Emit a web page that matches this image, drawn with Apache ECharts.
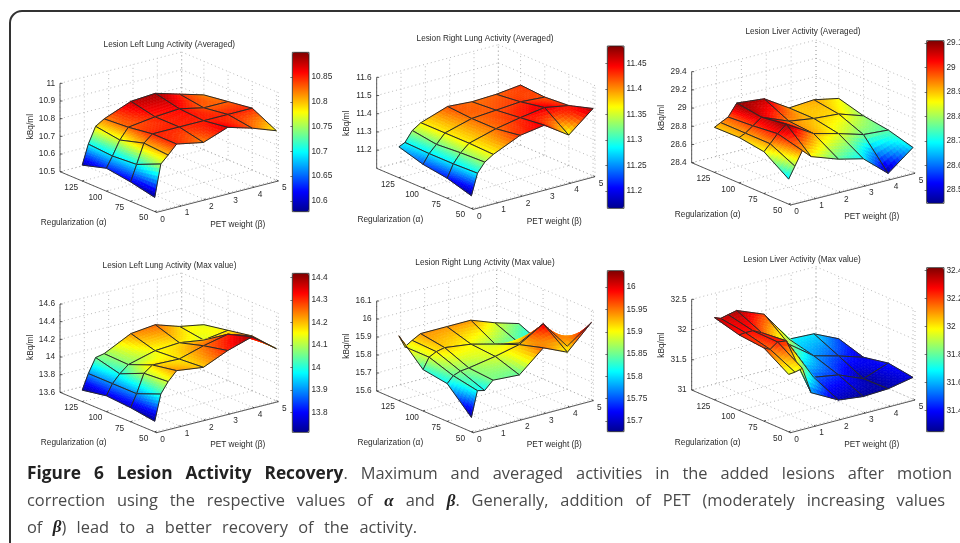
<!DOCTYPE html>
<html><head><meta charset="utf-8">
<style>html,body{margin:0;padding:0;background:#fff;overflow:hidden}#c{width:960px;height:543px;filter:blur(0.35px)}</style>
<script src="https://cdn.jsdelivr.net/npm/echarts@6/dist/echarts.min.js"></script>
</head><body><div id="c"></div>
<script>
// ---- data ----
const alphaValues = [50, 75, 100, 125];
const betaValues = [0, 0.25, 0.55, 0.9, 2, 3, 4, 5];
const alphaTicks = [50, 75, 100, 125];
const betaTicks = [0, 1, 2, 3, 4, 5];
// rows follow alphaValues, columns follow betaValues
const leftLungAvg = [
 [10.58,10.76,10.80,10.85,10.82,10.87,10.83,10.78],
 [10.61,10.70,10.81,10.85,10.85,10.85,10.85,10.85],
 [10.63,10.69,10.77,10.83,10.85,10.86,10.83,10.83],
 [10.59,10.70,10.79,10.82,10.88,10.89,10.85,10.81]];
const rightLungAvg = [
 [11.17,11.285,11.335,11.365,11.43,11.45,11.36,11.47],
 [11.21,11.28,11.33,11.37,11.41,11.435,11.455,11.43],
 [11.23,11.28,11.32,11.37,11.41,11.42,11.43,11.42],
 [11.27,11.285,11.34,11.37,11.42,11.41,11.415,11.43]];
const liverAvg = [
 [28.675,28.80,28.95,28.86,28.755,28.69,28.46,28.675],
 [28.86,28.93,29.02,29.10,28.92,28.85,28.77,28.75],
 [28.90,28.93,28.99,29.06,28.94,28.90,28.88,28.79],
 [28.895,28.93,28.97,29.10,29.07,28.90,28.92,28.865]];
const leftLungMax = [
 [13.72,14.01,14.13,14.23,14.19,14.31,14.395,14.19],
 [13.76,13.90,14.11,14.18,14.17,14.25,14.31,14.22],
 [13.78,13.90,13.99,14.07,14.15,14.17,14.13,14.17],
 [13.73,13.90,14.06,14.08,14.23,14.26,14.17,14.12]];
const rightLungMax = [
 [15.68,15.82,15.81,15.855,15.845,15.96,15.90,16.03],
 [15.81,15.845,15.86,15.865,15.89,15.92,16.00,15.84],
 [15.83,15.89,15.91,15.92,15.90,15.865,15.835,15.79],
 [15.96,15.89,15.915,15.94,15.94,15.94,15.89,15.85]];
const liverMax = [
 [31.95,31.96,31.99,31.55,31.31,31.26,31.28,31.36],
 [32.21,32.16,32.25,32.23,31.51,31.44,31.27,31.42],
 [32.25,32.26,32.26,32.19,31.88,31.58,31.47,31.34],
 [32.36,32.32,32.35,32.38,32.20,31.68,31.66,31.47]];
const zTicksLeftAvg = [10.5,10.6,10.7,10.8,10.9,11];
const zTicksRightAvg = [11.2,11.3,11.4,11.5,11.6];
const zTicksLiverAvg = [28.4,28.6,28.8,29,29.2,29.4];
const zTicksLeftMax = [13.6,13.8,14,14.2,14.4,14.6];
const zTicksRightMax = [15.6,15.7,15.8,15.9,16,16.1];
const zTicksLiverMax = [31,31.5,32,32.5];
const barTicksLeftAvg = [10.6,10.65,10.7,10.75,10.8,10.85];
const barTicksRightAvg = [11.2,11.25,11.3,11.35,11.4,11.45];
const barTicksLiverAvg = [28.5,28.6,28.7,28.8,28.9,29,29.1];
const barTicksLeftMax = [13.8,13.9,14,14.1,14.2,14.3,14.4];
const barTicksRightMax = [15.7,15.75,15.8,15.85,15.9,15.95,16];
const barTicksLiverMax = [31.4,31.6,31.8,32,32.2,32.4];
const titles = ['Lesion Left Lung Activity (Averaged)','Lesion Right Lung Activity (Averaged)','Lesion Liver Activity (Averaged)',
 'Lesion Left Lung Activity (Max value)','Lesion Right Lung Activity (Max value)','Lesion Liver Activity (Max value)'];
const jet = ['#00008f','#0000ff','#0080ff','#00ffff','#80ff80','#ffff00','#ff8000','#ff0000','#800000'];
const captionLines = [
 '{b|Figure} {b|6} {b|Lesion} {b|Activity} {b|Recovery}{r|.} {r|Maximum} {r|and} {r|averaged} {r|activities} {r|in} {r|the} {r|added} {r|lesions} {r|after} {r|motion}',
 '{r|correction} {r|using} {r|the} {r|respective} {r|values} {r|of} {m|α} {r|and} {m|β}{r|.} {r|Generally,} {r|addition} {r|of} {r|PET} {r|(moderately} {r|increasing} {r|values}',
 '{r|of} {m|β}{r|)} {r|lead} {r|to} {r|a} {r|better} {r|recovery} {r|of} {r|the} {r|activity.}'];
const captionEnds = [952, 945, 417];
const captionY = [474, 501.5, 528];

// ---- layout: geometry in 3x crop units of each panel ----
const panels = [
 {crop:[0,20,340,230], O:[470,577],B:[835,483],A:[180,455],zTop:190,zr:[10.5,11],  vals:leftLungAvg, zT:zTicksLeftAvg,  bar:[877,927,97,575], br:[10.578,10.90], bT:barTicksLeftAvg},
 {crop:[330,20,320,230],O:[430,568],B:[795,470],A:[140,445],zTop:172,zr:[11.1,11.6],vals:rightLungAvg,zT:zTicksRightAvg, bar:[832,882,78,565], br:[11.166,11.484], bT:barTicksRightAvg},
 {crop:[640,10,320,230],O:[452,585],B:[825,490],A:[155,458],zTop:185,zr:[28.4,29.4],vals:liverAvg,   zT:zTicksLiverAvg, bar:[860,912,92,580], br:[28.445,29.11],  bT:barTicksLiverAvg},
 {crop:[0,250,340,210], O:[470,548],B:[835,455],A:[180,427],zTop:162,zr:[13.6,14.6],vals:leftLungMax,zT:zTicksLeftMax,  bar:[877,927,70,547], br:[13.711,14.418], bT:barTicksLeftMax},
 {crop:[330,250,320,210],O:[430,548],B:[790,452],A:[140,423],zTop:153,zr:[15.6,16.1],vals:rightLungMax,zT:zTicksRightMax,bar:[832,882,62,545], br:[15.676,16.037], bT:barTicksRightMax},
 {crop:[640,250,320,210],O:[452,548],B:[825,450],A:[155,420],zTop:148,zr:[31,32.5],  vals:liverMax,  zT:zTicksLiverMax, bar:[860,912,53,545], br:[31.25,32.42],   bT:barTicksLiverMax}];
const titlePos = [[169.3,44],[485,38],[803,31],[169.5,265],[485,262],[802,259]];
const A_MIN = 48, A_MAX = 148, B_MAX = 5, SUB = 8;
const FONT = '8.3px "Liberation Sans"', TXT = '#2a2a2a';

function project(p, a, b, z) {
  const s = b / B_MAX, t = (a - A_MIN) / (A_MAX - A_MIN), u = (z - p.zr[0]) / (p.zr[1] - p.zr[0]);
  return [p.O[0] + (p.B[0]-p.O[0])*s + (p.A[0]-p.O[0])*t,
          p.O[1] + (p.B[1]-p.O[1])*s + (p.A[1]-p.O[1])*t - (p.A[1]-p.zTop)*u];
}
const tint = (p, z) => echarts.color.lerp(Math.min(1, Math.max(0, (z-p.br[0])/(p.br[1]-p.br[0]))), jet);

const grid = [], xAxis = [], yAxis = [], series = [], visualMap = [], title = [];
panels.forEach((p, i) => {
  const [cx, cy, cw, ch] = p.crop;
  const bi = grid.length;
  grid.push({left:cx, top:cy, width:cw, height:ch, show:false, outerBoundsMode:'none'});
  xAxis.push({gridIndex:bi, type:'value', min:0, max:cw*3, show:false});
  yAxis.push({gridIndex:bi, type:'value', min:0, max:ch*3, inverse:true, show:false});
  // colour bar axis
  const bx0 = cx + p.bar[0]/3, bx1 = cx + p.bar[1]/3, by0 = cy + p.bar[2]/3, by1 = cy + p.bar[3]/3;
  grid.push({left:bx0, top:by0, width:bx1-bx0, height:by1-by0, show:true, borderColor:'#222', borderWidth:0.8, backgroundColor:'transparent', z:6, outerBoundsMode:'none'});
  xAxis.push({gridIndex:bi+1, type:'value', min:0, max:1, show:false});
  yAxis.push({gridIndex:bi+1, type:'value', position:'right', min:p.br[0], max:p.br[1], z:6,
    splitLine:{show:false}, axisLine:{show:false},
    axisTick:{show:true, inside:true, length:2, lineStyle:{color:'#222',width:0.6}, customValues:p.bT},
    axisLabel:{color:TXT, fontSize:8.3, fontFamily:'Liberation Sans', margin:2.5, customValues:p.bT, formatter:v=>String(v), hideOverlap:false}});
  title.push({text:titles[i], left:titlePos[i][0], top:titlePos[i][1]-3.5, textAlign:'center', padding:0,
    textStyle:{color:TXT, fontSize:8.2, fontWeight:'normal', fontFamily:'Liberation Sans'}});

  // frame: walls, floor, axes, tick labels
  series.push({type:'custom', xAxisIndex:bi, yAxisIndex:bi, silent:true, animation:false, clip:false, z:2, data:[[0,0]],
    renderItem(params, api) {
      const ch_ = [];
      const P = (a,b,z) => api.coord(project(p,a,b,z));
      const [z0,z1] = p.zr;
      const dot = (q,r) => ch_.push({type:'line', shape:{x1:q[0],y1:q[1],x2:r[0],y2:r[1]}, style:{stroke:'#a8a8a8',lineWidth:0.8,lineDash:[1,3]}});
      const sol = (q,r) => ch_.push({type:'line', shape:{x1:q[0],y1:q[1],x2:r[0],y2:r[1]}, style:{stroke:'#333',lineWidth:0.8}});
      const txt = (q,s,dx,dy,al,rot) => ch_.push({type:'text', x:q[0]+dx, y:q[1]+dy, rotation:rot||0,
        style:{text:s, font:FONT, fill:TXT, align:al||'center', verticalAlign:'middle'}});
      const aAll = [A_MIN].concat(alphaTicks, [A_MAX]);
      const zAll = [z0].concat(p.zT.filter(v=>v!==z0));
      betaTicks.forEach(b => { dot(P(A_MIN,b,z0),P(A_MAX,b,z0)); dot(P(A_MAX,b,z0),P(A_MAX,b,z1)); });
      aAll.forEach(a => { dot(P(a,0,z0),P(a,B_MAX,z0)); dot(P(a,B_MAX,z0),P(a,B_MAX,z1)); });
      zAll.forEach(z => { dot(P(A_MAX,0,z),P(A_MAX,B_MAX,z)); dot(P(A_MAX,B_MAX,z),P(A_MIN,B_MAX,z)); });
      sol(P(A_MIN,0,z0),P(A_MAX,0,z0)); sol(P(A_MIN,0,z0),P(A_MIN,B_MAX,z0)); sol(P(A_MAX,0,z0),P(A_MAX,0,z1));
      const o = P(A_MIN,0,z0);
      alphaTicks.forEach(a => { const q=P(a,0,z0); sol(q,[q[0]+2,q[1]-0.8]); txt(q,String(a),-11,6.5); });
      betaTicks.forEach(b => { const q=P(A_MIN,b,z0); sol(q,[q[0]-1.5,q[1]-1]); txt(q,String(b),6,7); });
      p.zT.forEach(z => { const q=P(A_MAX,0,z); sol(q,[q[0]+2.5,q[1]]); txt(q,String(z),-5,0,'right'); });
      txt(o,'Regularization (α)',-83,10);
      txt(o,'PET weight (β)',81,12);
      const a0 = P(A_MAX,0,z0);
      txt(a0,'kBq/ml',-29.5,-45,'center',Math.PI/2);
      return {type:'group', children:ch_};
    }});

  // surface: far cells first
  const cells = [];
  for (let ai = alphaValues.length-2; ai >= 0; ai--)
    for (let bj = betaValues.length-2; bj >= 0; bj--)
      cells.push([ai, bj, (p.vals[ai][bj]+p.vals[ai+1][bj]+p.vals[ai][bj+1]+p.vals[ai+1][bj+1])/4]);
  const sIdx = series.length;
  series.push({type:'custom', xAxisIndex:bi, yAxisIndex:bi, silent:true, animation:false, clip:false, z:3, data:cells,
    encode:{x:0,y:1},
    renderItem(params, api) {
      const ai = api.value(0), bj = api.value(1), ch_ = [];
      const a0=alphaValues[ai], a1=alphaValues[ai+1], b0=betaValues[bj], b1=betaValues[bj+1];
      const v=p.vals, q00=v[ai][bj], q10=v[ai+1][bj], q01=v[ai][bj+1], q11=v[ai+1][bj+1];
      const at = (t,s) => {
        const z = q00*(1-t)*(1-s)+q10*t*(1-s)+q01*(1-t)*s+q11*t*s;
        return {z, pt: api.coord(project(p, a0+(a1-a0)*t, b0+(b1-b0)*s, z))};
      };
      for (let m=SUB-1;m>=0;m--) for (let n=SUB-1;n>=0;n--) {
        const c=[at(m/SUB,n/SUB),at((m+1)/SUB,n/SUB),at((m+1)/SUB,(n+1)/SUB),at(m/SUB,(n+1)/SUB)];
        const col = tint(p,(c[0].z+c[1].z+c[2].z+c[3].z)/4);
        ch_.push({type:'polygon', shape:{points:c.map(k=>k.pt)}, style:{fill:col, stroke:col, lineWidth:0.6}});
      }
      const outline=[[0,0],[1,0],[1,1],[0,1]].map(([t,s])=>at(t,s).pt);
      ch_.push({type:'polygon', shape:{points:outline}, style:{fill:'none', stroke:'#2a2a2a', lineWidth:1}});
      return {type:'group', children:ch_};
    }});
  visualMap.push({type:'continuous', seriesIndex:sIdx, dimension:2, min:p.br[0], max:p.br[1], left:bx0, top:by0,
    itemWidth:bx1-bx0, itemHeight:by1-by0, padding:0, calculable:false, hoverLink:false, realtime:false, z:4,
    inRange:{color:jet}});
});

// caption
const meas = document.createElement('canvas').getContext('2d');
const CAP = {b:'bold 17.3px "Open Sans"', r:'16.4px "Open Sans"', m:'italic bold 17px "Liberation Serif"'};
const graphic = [{type:'rect', shape:{x:10,y:11,width:1000,height:600,r:[12,0,0,0]}, style:{fill:'none',stroke:'#333',lineWidth:2}, silent:true}];
captionLines.forEach((ln,i) => {
  let sum = 0;
  ln.replace(/\{(\w)\|([^}]*)\}/g,(m,k,t)=>{ meas.font=CAP[k]; sum+=meas.measureText(t).width; return m; });
  const gaps = ln.split(' ').length - 1;
  const gap = (captionEnds[i]-27-sum)/gaps;
  graphic.push({type:'text', x:27, y:captionY[i], silent:true, style:{
    text: ln.replace(/\} \{/g,'}{s| }{'), verticalAlign:'middle', align:'left', font:CAP.r, fill:'#4a4a4a',
    rich:{b:{font:CAP.b, fill:'#222'}, r:{font:CAP.r, fill:'#4a4a4a'}, m:{font:CAP.m, fill:'#222'}, s:{font:CAP.r, width:gap}}}});
});

const chart = echarts.init(document.getElementById('c'), null, {renderer:'canvas', width:960, height:543});
chart.setOption({animation:false, backgroundColor:'#fff', title, grid, xAxis, yAxis, series, visualMap, graphic});
</script></body></html>
